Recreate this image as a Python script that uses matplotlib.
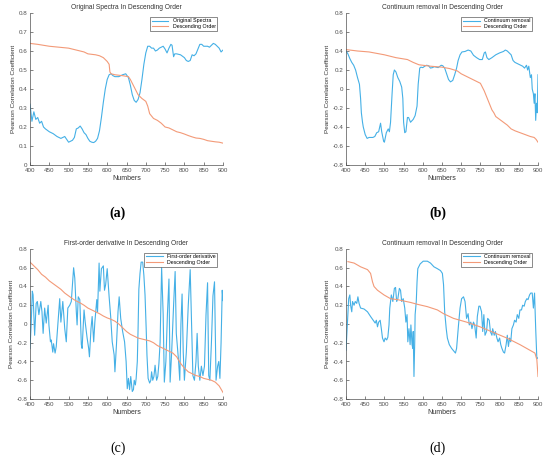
import numpy as np
import matplotlib
matplotlib.use("Agg")
import matplotlib.pyplot as plt
from matplotlib.ticker import FuncFormatter

plt.rcParams['font.family'] = ['Liberation Sans', 'DejaVu Sans']

BLUE = '#45B0E6'
ORANGE = '#F39A78'
GREY = '#505050'

# ---- (a) Original spectra ----
a_x = [400, 405, 410, 415, 420, 425, 430, 435, 440, 450, 460, 470, 480, 485, 490, 495,
       500, 505, 510, 515, 520, 525, 530, 535, 540, 545, 550, 555, 560, 565, 570, 575,
       580, 585, 590, 595, 600, 605, 610, 615, 620, 630, 640, 648, 655, 660, 665, 670,
       675, 680, 685, 690, 695, 700, 705, 710, 715, 720, 725, 730, 735, 740, 745, 750,
       755, 760, 765, 768, 772, 775, 780, 790, 800, 805, 810, 815, 820, 825, 830, 835,
       840, 845, 850, 860, 865, 870, 875, 880, 885, 890, 895, 900]
a_y = [0.32, 0.23, 0.28, 0.24, 0.25, 0.22, 0.23, 0.20, 0.19, 0.175, 0.165, 0.15, 0.14, 0.145, 0.15, 0.135,
       0.12, 0.125, 0.13, 0.145, 0.19, 0.195, 0.205, 0.19, 0.17, 0.16, 0.14, 0.125, 0.12, 0.118, 0.125, 0.14,
       0.18, 0.25, 0.33, 0.40, 0.45, 0.475, 0.48, 0.47, 0.465, 0.465, 0.475, 0.48, 0.46, 0.42, 0.37, 0.34,
       0.33, 0.345, 0.38, 0.45, 0.53, 0.59, 0.625, 0.625, 0.615, 0.615, 0.60, 0.605, 0.615, 0.62, 0.625, 0.61,
       0.59, 0.615, 0.635, 0.63, 0.57, 0.585, 0.585, 0.58, 0.565, 0.55, 0.545, 0.55, 0.58, 0.575, 0.585, 0.61,
       0.635, 0.635, 0.625, 0.625, 0.62, 0.63, 0.64, 0.635, 0.625, 0.615, 0.595, 0.605]
a_sx = [400, 420, 450, 500, 520, 540, 550, 570, 580, 590, 600, 605, 607, 610, 620, 640, 655,
        660, 665, 670, 675, 680, 690, 700, 705, 710, 720, 730, 740, 750, 760, 770, 780, 790,
        800, 810, 820, 830, 840, 850, 860, 870, 880, 890, 900]
a_sy = [0.64, 0.635, 0.625, 0.615, 0.605, 0.595, 0.585, 0.58, 0.575, 0.565, 0.545, 0.53, 0.49, 0.48,
        0.475, 0.47, 0.465, 0.45, 0.43, 0.41, 0.39, 0.37, 0.35, 0.335, 0.31, 0.27, 0.245, 0.235, 0.22,
        0.20, 0.195, 0.185, 0.175, 0.17, 0.163, 0.155, 0.148, 0.142, 0.14, 0.135, 0.128, 0.125, 0.122,
        0.12, 0.115]

# ---- (b) Continuum removal ----
b_x = [400, 405, 410, 415, 420, 425, 430, 435, 438, 440, 443, 445, 450, 455, 460, 470, 475, 480,
       485, 490, 493, 498, 500, 505, 510, 513, 516, 520, 523, 526, 530, 535, 540, 545, 548, 550,
       553, 556, 560, 563, 568, 575, 580, 585, 588, 592, 595, 600, 605, 610, 615, 620, 625, 630,
       640, 648, 652, 657, 662, 667, 672, 678, 683, 688, 692, 697, 702, 710, 718, 725, 732, 740,
       748, 755, 760, 763, 767, 772, 780, 790, 800, 810, 815, 820, 830, 835, 840, 850, 860, 865,
       870, 873, 876, 880, 883, 885, 888, 890, 892, 894, 896, 898, 900]
b_y = [0.40, 0.37, 0.32, 0.28, 0.25, 0.20, 0.12, 0.05, -0.10, -0.25, -0.35, -0.40, -0.48, -0.52, -0.51,
       -0.51, -0.50, -0.46, -0.45, -0.36, -0.45, -0.55, -0.56, -0.46, -0.42, -0.45, -0.35, -0.05, 0.15,
       0.20, 0.18, 0.12, 0.08, 0.02, -0.10, -0.35, -0.46, -0.45, -0.30, -0.30, -0.35, -0.32, -0.28,
       -0.18, 0.05, 0.22, 0.23, 0.225, 0.24, 0.25, 0.245, 0.22, 0.225, 0.235, 0.225, 0.25, 0.245, 0.22,
       0.16, 0.10, 0.075, 0.09, 0.15, 0.22, 0.30, 0.36, 0.39, 0.395, 0.41, 0.40, 0.355, 0.33, 0.31,
       0.31, 0.38, 0.39, 0.33, 0.31, 0.33, 0.36, 0.38, 0.395, 0.41, 0.40, 0.36, 0.30, 0.28, 0.26,
       0.24, 0.22, 0.25, 0.20, 0.24, 0.12, 0.15, 0.0, -0.05, -0.15, -0.05, -0.33, -0.15, -0.25, 0.15]
b_sx = [400, 430, 460, 500, 530, 560, 575, 590, 620, 650, 670, 690, 700, 720, 740, 750, 755, 760,
        765, 770, 775, 780, 785, 790, 800, 810, 820, 830, 840, 860, 880, 890, 895, 900]
b_sy = [0.415, 0.40, 0.39, 0.36, 0.33, 0.31, 0.28, 0.255, 0.24, 0.23, 0.215, 0.19, 0.16, 0.12, 0.08,
        0.06, 0.02, -0.02, -0.07, -0.12, -0.17, -0.22, -0.25, -0.29, -0.32, -0.35, -0.38, -0.42, -0.44,
        -0.47, -0.50, -0.51, -0.53, -0.56]

# ---- (c) First-order derivative ----
c_x = [400, 403, 406, 408, 412, 416, 419, 423, 428, 431, 434, 438, 442, 447, 449, 453, 455, 459,
       461, 465, 468, 472, 477, 480, 485, 490, 494, 498, 503, 507, 510, 513, 516, 520, 522, 525,
       529, 533, 535, 540, 543, 548, 552, 554, 558, 561, 565, 568, 573, 575, 579, 581, 585, 590,
       593, 596, 600, 605, 609, 613, 618, 620, 624, 628, 631, 635, 640, 645, 649, 652, 655, 658,
       661, 665, 668, 670, 673, 675, 678, 680, 682, 685, 688, 692, 695, 698, 701, 703, 706, 710,
       713, 715, 718, 721, 724, 728, 731, 734, 737, 741, 745, 748, 752, 756, 760, 763, 767, 772,
       776, 779, 782, 785, 788, 791, 794, 797, 800, 805, 810, 815, 818, 822, 826, 830, 833, 836,
       840, 844, 848, 852, 856, 860, 863, 866, 870, 874, 878, 882, 886, 889, 892, 895, 898, 900]
c_y = [-0.26, 0.0, 0.35, 0.31, -0.12, 0.22, 0.24, 0.10, 0.24, 0.13, -0.10, 0.17, 0.01, 0.20, -0.01,
       -0.19, -0.17, -0.30, -0.21, -0.31, -0.24, -0.01, 0.27, 0.02, 0.24, -0.05, -0.19, 0.17, 0.20,
       0.24, 0.42, 0.60, 0.49, 0.13, -0.01, 0.29, 0.26, -0.22, -0.26, 0.15, 0.02, -0.15, -0.26, -0.35,
       -0.05, 0.08, -0.19, 0.02, 0.26, 0.13, 0.65, 0.35, 0.59, 0.62, 0.36, 0.42, 0.59, 0.29, 0.08,
       -0.19, -0.33, -0.51, -0.22, 0.13, 0.29, 0.06, -0.08, -0.19, -0.40, -0.69, -0.58, -0.70, -0.56,
       -0.72, -0.70, -0.60, -0.65, -0.58, -0.40, -0.05, 0.37, 0.54, 0.66, 0.66, 0.52, 0.31, -0.05,
       -0.33, -0.58, -0.63, -0.60, -0.51, -0.60, -0.56, -0.44, -0.60, -0.56, -0.42, -0.20, 0.60, 0.10,
       -0.62, -0.40, 0.10, 0.48, -0.62, -0.30, 0.20, 0.56, -0.10, -0.25, -0.40, -0.60, 0.00, 0.32,
       -0.30, -0.60, -0.30, 0.20, 0.58, 0.10, -0.55, -0.60, -0.40, -0.10, -0.45, -0.60, -0.45, -0.55,
       -0.45, 0.10, 0.44, -0.55, -0.60, -0.20, 0.30, 0.45, -0.60, -0.45, -0.40, -0.58, -0.20, 0.36, 0.25]
c_sx = [400, 410, 420, 430, 440, 450, 460, 470, 480, 490, 500, 510, 520, 530, 540, 550, 560, 570,
        580, 590, 600, 610, 620, 630, 640, 650, 660, 670, 680, 690, 700, 710, 720, 730, 740, 750,
        760, 770, 780, 790, 800, 810, 820, 830, 840, 850, 860, 870, 880, 890, 900]
c_sy = [0.66, 0.62, 0.58, 0.53, 0.50, 0.46, 0.43, 0.40, 0.37, 0.33, 0.30, 0.27, 0.245, 0.225, 0.20,
        0.17, 0.15, 0.13, 0.11, 0.085, 0.065, 0.05, 0.03, 0.0, -0.04, -0.08, -0.11, -0.13, -0.15, -0.16,
        -0.17, -0.18, -0.20, -0.23, -0.25, -0.27, -0.29, -0.31, -0.35, -0.42, -0.47, -0.51, -0.53, -0.55,
        -0.56, -0.58, -0.59, -0.60, -0.62, -0.66, -0.73]

# ---- (d) Continuum removal ----
d_x = [400, 403, 407, 410, 412, 415, 417, 421, 424, 428, 431, 434, 438, 447, 456, 464, 471, 476,
       479, 482, 485, 489, 492, 495, 499, 502, 506, 509, 512, 514, 518, 522, 526, 529, 532, 535,
       539, 542, 545, 549, 553, 556, 559, 561, 564, 567, 569, 572, 574, 575, 577, 579, 580, 583,
       585, 587, 593, 601, 612, 620, 629, 638, 646, 651, 654, 657, 661, 664, 669, 675, 681, 685,
       688, 693, 697, 701, 706, 710, 714, 718, 721, 725, 728, 732, 735, 739, 742, 746, 749, 753,
       756, 759, 762, 766, 769, 773, 776, 780, 782, 786, 789, 793, 796, 800, 803, 806, 810, 813,
       817, 820, 823, 826, 829, 832, 836, 839, 843, 846, 850, 853, 857, 860, 864, 867, 871, 874,
       878, 881, 885, 888, 891, 894, 897, 900]
d_y = [-0.28, -0.05, 0.27, 0.31, 0.20, 0.13, 0.24, 0.20, 0.24, 0.22, 0.29, 0.22, 0.17, 0.16, 0.13,
       0.08, 0.04, 0.01, 0.04, -0.03, 0.02, 0.04, -0.05, -0.15, -0.19, -0.15, -0.17, -0.14, -0.01,
       0.17, 0.31, 0.24, 0.38, 0.39, 0.24, 0.27, 0.38, 0.36, 0.24, 0.27, 0.17, 0.02, 0.10, -0.19,
       -0.05, -0.22, -0.01, -0.22, -0.26, -0.08, -0.56, -0.19, 0.10, 0.24, 0.45, 0.59, 0.64, 0.67,
       0.67, 0.65, 0.61, 0.59, 0.57, 0.54, 0.42, 0.13, -0.05, -0.15, -0.22, -0.26, -0.29, -0.31,
       -0.26, -0.01, 0.17, 0.27, 0.29, 0.24, 0.06, 0.11, -0.01, 0.02, -0.05, 0.02, -0.01, -0.15, 0.08,
       0.19, 0.19, 0.13, -0.08, 0.10, -0.12, -0.08, 0.06, 0.04, -0.08, -0.12, -0.05, -0.12, -0.08,
       -0.15, -0.19, -0.15, -0.22, -0.26, -0.30, -0.31, -0.22, -0.12, -0.24, -0.15, -0.19, -0.05,
       -0.01, 0.04, 0.02, 0.10, 0.06, 0.15, 0.15, 0.20, 0.19, 0.24, 0.27, 0.26, 0.31, 0.33, 0.33,
       0.17, 0.33, -0.05, -0.37, -0.36]
d_sx = [405, 421, 438, 456, 464, 469, 473, 482, 499, 516, 534, 551, 568, 586, 612, 638, 654, 680,
        714, 749, 784, 819, 853, 879, 892, 897, 900]
d_sy = [0.665, 0.65, 0.61, 0.58, 0.54, 0.45, 0.40, 0.36, 0.31, 0.27, 0.26, 0.245, 0.23, 0.21, 0.185,
        0.15, 0.11, 0.06, 0.02, -0.03, -0.09, -0.15, -0.22, -0.28, -0.31, -0.38, -0.56]

panels = [
    ("Original Spectra In Descending Order", "Original Spectra", a_x, a_y, a_sx, a_sy, (0, 0.8), 0.1, "(a)", "bold"),
    ("Continuum removal In Descending Order", "Continuum removal", b_x, b_y, b_sx, b_sy, (-0.8, 0.8), 0.2, "(b)", "bold"),
    ("First-order derivative In Descending Order", "First-order derivative", c_x, c_y, c_sx, c_sy, (-0.8, 0.8), 0.2, "(c)", "normal"),
    ("Continuum removal In Descending Order", "Continuum removal", d_x, d_y, d_sx, d_sy, (-0.8, 0.8), 0.2, "(d)", "normal"),
]

# axes boxes in pixels: left, top, right, bottom
W, H = 550, 461
boxes = [(30, 13, 223, 165), (346, 13, 538, 165), (30, 249, 223, 399), (346, 249, 538, 399)]
label_pos = [(118, 213), (438, 213), (118, 448), (438, 448)]


def fmt(v, p):
    v = round(v, 2) + 0.0
    return "%g" % v


fig = plt.figure(figsize=(5.5, 4.61), dpi=100)

for (title, name, bx, by, sx, sy, ylim, ystep, tag, weight), (l, t, r, b), (lx, ly) in zip(panels, boxes, label_pos):
    ax = fig.add_axes([l / W, 1 - b / H, (r - l) / W, (b - t) / H])
    ax.plot(bx, by, color=BLUE, lw=0.8, label=name)
    ax.plot(sx, sy, color=ORANGE, lw=0.8, label="Descending Order")
    ax.set_xlim(400, 900)
    ax.set_ylim(*ylim)
    ax.set_xticks(np.arange(400, 901, 50))
    ax.set_yticks(np.arange(ylim[0], ylim[1] + 1e-9, ystep))
    ax.yaxis.set_major_formatter(FuncFormatter(fmt))
    for s in ["top", "right"]:
        ax.spines[s].set_visible(False)
    for s in ["left", "bottom"]:
        ax.spines[s].set_color(GREY)
        ax.spines[s].set_linewidth(0.5)
    ax.tick_params(direction="in", length=2, width=0.5, colors=GREY, labelsize=4.5, pad=2)
    ax.set_title(title, fontsize=4.8, color="#333333", pad=3)
    ax.set_xlabel("Numbers", fontsize=5, color="#333333", labelpad=1.5)
    ax.set_ylabel("Pearson Correlation Coefficient", fontsize=4.6, color="#333333", labelpad=1.5)
    leg = ax.legend(loc="upper right", bbox_to_anchor=(0.97, 0.975), borderaxespad=0,
                    fontsize=3.8, frameon=True, fancybox=False, handlelength=3.2,
                    borderpad=0.3, labelspacing=0.15, handletextpad=0.8)
    leg.get_frame().set_edgecolor("#333333")
    leg.get_frame().set_linewidth(0.5)
    fig.text(lx / W, 1 - ly / H, tag, ha="center", va="center", fontsize=10,
             family="Liberation Serif", fontweight=weight)

fig.savefig("out.png", dpi=100)
